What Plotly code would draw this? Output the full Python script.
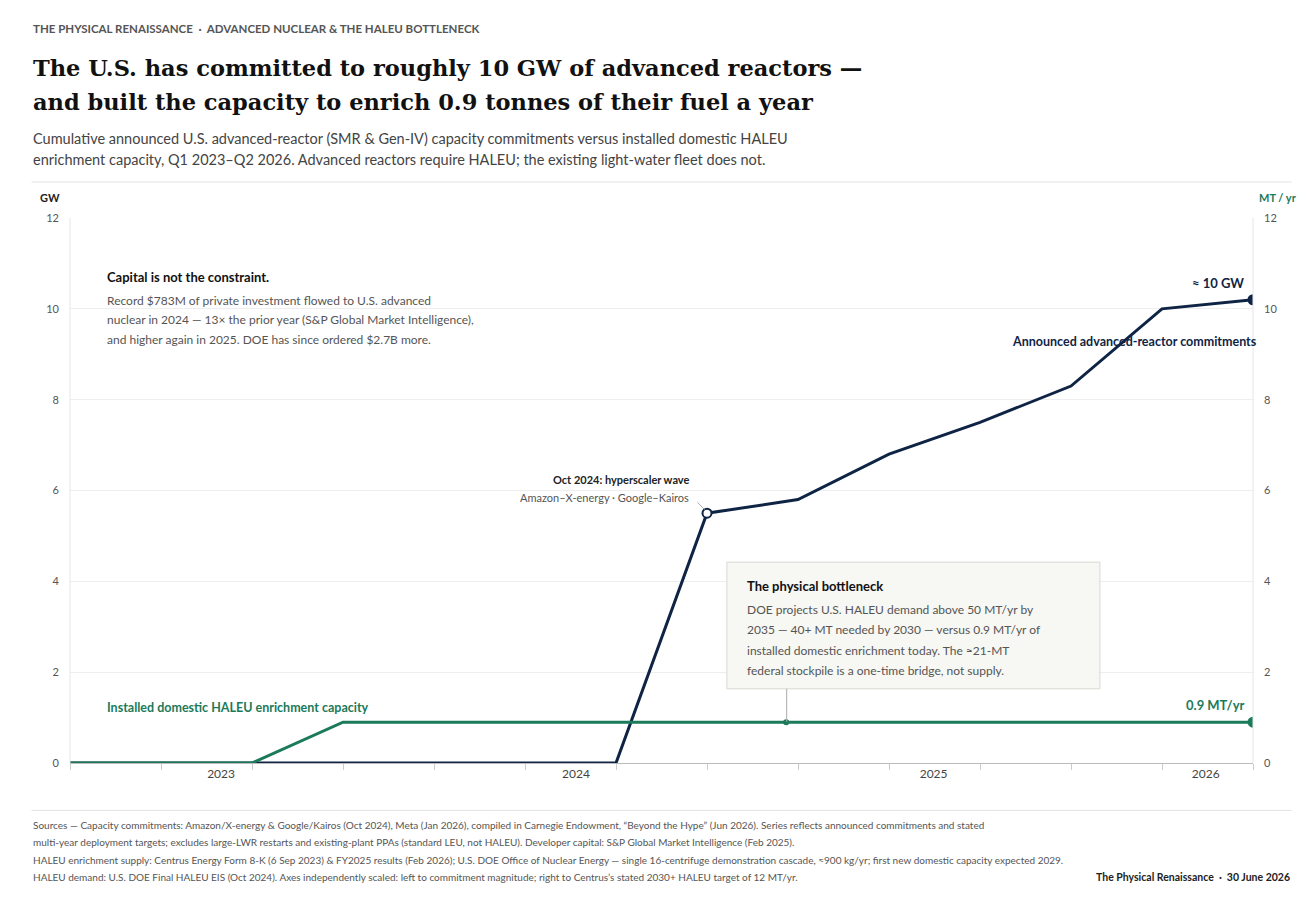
import plotly.graph_objects as go

quarters = ["Q1 2023","Q2 2023","Q3 2023","Q4 2023","Q1 2024","Q2 2024","Q3 2024",
            "Q4 2024","Q1 2025","Q2 2025","Q3 2025","Q4 2025","Q1 2026","Q2 2026"]
commit_gw = [0, 0, 0, 0, 0, 0, 0, 5.5, 5.8, 6.8, 7.5, 8.3, 10.0, 10.2]
haleu_mt = [0, 0, 0.0, 0.9, 0.9, 0.9, 0.9, 0.9, 0.9, 0.9, 0.9, 0.9, 0.9, 0.9]
year_labels = ["2023", "2024", "2025", "2026"]
year_pos = [1.66, 5.56, 9.49, 12.48]

NAVY = "#0f2444"; GREEN = "#1b7a5a"; GRAY = "#555"; FONT = "Lato"
OFF = 8
X0, X1, Y0, Y1 = 70 - OFF, 1237 - OFF, 218 - OFF, 747 - OFF
W, H = 1310, 900
xi = list(range(len(quarters)))

fig = go.Figure()
fig.add_trace(go.Scatter(x=xi, y=haleu_mt, mode="lines", line=dict(color=GREEN, width=3), yaxis="y2",
                         hoverinfo="skip"))
fig.add_trace(go.Scatter(x=[xi[-1]], y=[haleu_mt[-1]], mode="markers", marker=dict(color=GREEN, size=11),
                         yaxis="y2", hoverinfo="skip"))
fig.add_trace(go.Scatter(x=[7.87], y=[haleu_mt[8]], mode="markers", marker=dict(color=GREEN, size=6),
                         yaxis="y2", hoverinfo="skip"))
fig.add_trace(go.Scatter(x=xi, y=commit_gw, mode="lines", line=dict(color=NAVY, width=3), hoverinfo="skip"))
fig.add_trace(go.Scatter(x=[7], y=[commit_gw[7]], mode="markers",
                         marker=dict(color="white", size=9, line=dict(color=NAVY, width=2)), hoverinfo="skip"))
fig.add_trace(go.Scatter(x=[xi[-1]], y=[commit_gw[-1]], mode="markers", marker=dict(color=NAVY, size=11),
                         hoverinfo="skip"))

def px(x): return (x - OFF - X0) / (X1 - X0)
def py(y): return (Y1 - (y - OFF)) / (Y1 - Y0)

ann = []
def t(x, y, text, size=12, color=GRAY, anchor="left", bold=False, font=FONT, valign="middle"):
    if bold: text = "<b>" + text + "</b>"
    ann.append(dict(xref="paper", yref="paper", x=px(x), y=py(y), text=text, showarrow=False,
                    xanchor=anchor, yanchor=valign, font=dict(size=size, color=color, family=font)))

t(32, 34, "THE PHYSICAL RENAISSANCE  ·  ADVANCED NUCLEAR &amp; THE HALEU BOTTLENECK", size=11.5, color=GRAY, bold=True)
t(32, 72, "The U.S. has committed to roughly 10 GW of advanced reactors —", size=22.5, color="#111", bold=True, font="DejaVu Serif")
t(32, 105, "and built the capacity to enrich 0.9 tonnes of their fuel a year", size=22.5, color="#111", bold=True, font="DejaVu Serif")
t(32, 141, "Cumulative announced U.S. advanced-reactor (SMR &amp; Gen-IV) capacity commitments versus installed domestic HALEU", size=14.5, color="#444")
t(32, 161, "enrichment capacity, Q1 2023–Q2 2026. Advanced reactors require HALEU; the existing light-water fleet does not.", size=14.5, color="#444")
t(50, 198, "GW", size=11, color="#222", bold=True, anchor="center")
t(1282, 198, "MT / yr", size=11, color=GREEN, bold=True, anchor="right")

t(105, 275, "Capital is not the constraint.", size=13, color="#111", bold=True)
for i, s in enumerate(["Record $783M of private investment flowed to U.S. advanced",
                       "nuclear in 2024 — 13× the prior year (S&amp;P Global Market Intelligence),",
                       "and higher again in 2025. DOE has since ordered $2.7B more."]):
    t(105, 298 + 19 * i, s, size=12)

t(1230, 281, "≈ 10 GW", size=13, color=NAVY, bold=True, anchor="right")
t(1243, 338, "Announced advanced-reactor commitments", size=12.5, color=NAVY, bold=True, anchor="right")
t(105, 693, "Installed domestic HALEU enrichment capacity", size=12.5, color=GREEN, bold=True)
t(1230, 691, "0.9 MT/yr", size=13, color=GREEN, bold=True, anchor="right")
t(683, 472, "Oct 2024: hyperscaler wave", size=11, color="#222", bold=True, anchor="right")
t(683, 489, "Amazon–X-energy · Google–Kairos", size=11, color=GRAY, anchor="right")

t(736, 575, "The physical bottleneck", size=13, color="#111", bold=True)
for i, s in enumerate(["DOE projects U.S. HALEU demand above 50 MT/yr by",
                       "2035 — 40+ MT needed by 2030 — versus 0.9 MT/yr of",
                       "installed domestic enrichment today. The ≈21-MT",
                       "federal stockpile is a one-time bridge, not supply."]):
    t(736, 598 + 19.7 * i, s, size=12)

for i, s in enumerate([
    "Sources — Capacity commitments: Amazon/X-energy &amp; Google/Kairos (Oct 2024), Meta (Jan 2026), compiled in Carnegie Endowment, “Beyond the Hype” (Jun 2026). Series reflects announced commitments and stated",
    "multi-year deployment targets; excludes large-LWR restarts and existing-plant PPAs (standard LEU, not HALEU). Developer capital: S&amp;P Global Market Intelligence (Feb 2025).",
    "HALEU enrichment supply: Centrus Energy Form 8-K (6 Sep 2023) &amp; FY2025 results (Feb 2026); U.S. DOE Office of Nuclear Energy — single 16-centrifuge demonstration cascade, ≈900 kg/yr; first new domestic capacity expected 2029.",
    "HALEU demand: U.S. DOE Final HALEU EIS (Oct 2024). Axes independently scaled: left to commitment magnitude; right to Centrus’s stated 2030+ HALEU target of 12 MT/yr."]):
    t(32, 807 + 17 * i, s, size=10, color=GRAY)
t(1275, 858, "The Physical Renaissance  ·  30 June 2026", size=10.5, color="#222", bold=True, anchor="right")

shapes = [
    dict(type="line", xref="paper", yref="paper", x0=px(32), x1=px(1275), y0=py(183), y1=py(183), line=dict(color="#e2e2e2", width=1)),
    dict(type="line", xref="paper", yref="paper", x0=px(32), x1=px(1275), y0=py(793), y1=py(793), line=dict(color="#e2e2e2", width=1)),
    dict(type="line", xref="paper", yref="paper", x0=0, x1=0, y0=0, y1=1, line=dict(color="#e6e6e6", width=1)),
    dict(type="line", xref="paper", yref="paper", x0=1, x1=1, y0=0, y1=1, line=dict(color="#e6e6e6", width=1)),
    dict(type="rect", xref="paper", yref="paper", x0=px(718), x1=px(1086), y0=py(675), y1=py(552),
         fillcolor="#f7f7f3", line=dict(color="#d9d9d4", width=1), layer="above"),
    dict(type="line", xref="paper", yref="paper", x0=px(777), x1=px(777), y0=py(675), y1=py(707), line=dict(color="#aaa", width=1)),
    dict(type="line", xref="paper", yref="paper", x0=px(689), x1=px(696), y0=py(494), y1=py(501), line=dict(color="#aaa", width=1)),
]

fig.update_layout(
    width=W, height=H, paper_bgcolor="white", plot_bgcolor="white", showlegend=False,
    margin=dict(l=X0, r=W - X1 - 2 * OFF, t=Y0, b=H - Y1 - 2 * OFF),
    font=dict(family=FONT, color=GRAY),
    xaxis=dict(range=[0, len(quarters) - 1], tickvals=year_pos, ticktext=year_labels, ticks="", ticklen=0,
               showgrid=False, zeroline=False, showline=True, linecolor="#bbb",
               tickfont=dict(size=12, color="#444"),
               minor=dict(tickvals=xi, ticks="outside", ticklen=6, tickcolor="#ccc", showgrid=False)),
    yaxis=dict(range=[0, 12], dtick=2, gridcolor="#eeeeee", zeroline=False, tickfont=dict(size=11, color=GRAY),
               ticklabelstandoff=10),
    yaxis2=dict(range=[0, 12], dtick=2, overlaying="y", side="right", showgrid=False, zeroline=False,
                tickfont=dict(size=11, color=GRAY), ticklabelstandoff=10),
    annotations=ann, shapes=shapes,
)
fig.write_html("out.html")
